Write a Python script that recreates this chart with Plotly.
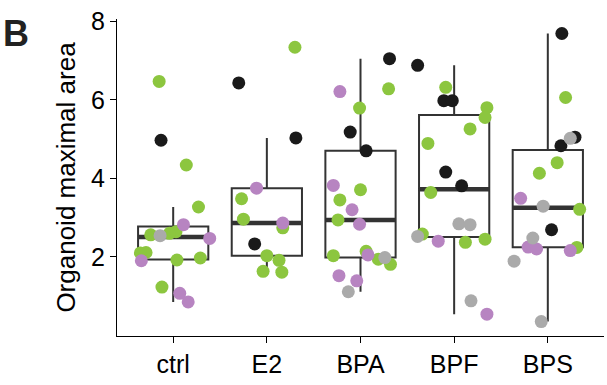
import numpy as np
import plotly.graph_objects as go

categories = ["ctrl", "E2", "BPA", "BPF", "BPS"]

# point values, jitter offsets and colour groups per category
ctrl_vals = [6.47, 4.97, 4.34, 3.27, 2.82, 2.64, 2.60, 2.54, 2.56, 2.47, 2.11, 2.10, 1.90, 1.92, 1.97, 1.23, 1.07, 0.85]
ctrl_jit = [-0.15, -0.13, 0.14, 0.27, 0.11, 0.03, -0.04, -0.14, -0.24, 0.39, -0.29, -0.35, -0.34, 0.04, 0.29, -0.12, 0.07, 0.16]
ctrl_grp = ["G", "K", "G", "G", "P", "G", "G", "Gr", "G", "P", "G", "G", "P", "G", "G", "G", "P", "P"]

e2_vals = [6.43, 7.34, 5.03, 3.75, 3.48, 2.96, 2.86, 2.74, 2.33, 2.03, 1.91, 1.63, 1.61]
e2_jit = [-0.30, 0.30, 0.31, -0.11, -0.27, -0.25, 0.17, 0.17, -0.13, 0.00, 0.13, -0.04, 0.16]
e2_grp = ["K", "G", "K", "P", "G", "G", "P", "G", "K", "G", "G", "G", "G"]

bpa_vals = [6.21, 5.79, 5.18, 4.70, 3.82, 3.71, 3.45, 3.20, 2.94, 2.83, 2.03, 2.14, 2.05, 1.52, 1.39, 1.11, 7.05, 6.28, 1.94, 1.98, 1.81]
bpa_jit = [-0.22, -0.01, -0.11, 0.06, -0.29, 0.00, -0.22, -0.09, -0.24, -0.01, -0.29, 0.06, 0.08, -0.23, -0.04, -0.13, 0.31, 0.30, 0.19, 0.26, 0.32]
bpa_grp = ["P", "G", "K", "K", "P", "G", "G", "P", "G", "P", "G", "G", "P", "P", "P", "Gr", "K", "G", "G", "Gr", "G"]

bpf_vals = [6.88, 6.32, 5.98, 5.98, 5.80, 5.55, 5.26, 4.89, 4.16, 3.81, 3.64, 2.84, 2.82, 2.58, 2.52, 2.40, 2.37, 2.45, 0.88, 0.54]
bpf_jit = [-0.39, -0.09, -0.11, -0.02, 0.35, 0.33, 0.17, -0.28, -0.09, 0.08, -0.25, 0.05, 0.17, -0.34, -0.39, -0.17, 0.12, 0.33, 0.18, 0.35]
bpf_grp = ["K", "G", "K", "K", "G", "G", "G", "G", "K", "K", "G", "Gr", "Gr", "G", "Gr", "P", "G", "G", "Gr", "P"]

bps_vals = [7.69, 6.06, 5.02, 5.05, 4.83, 4.40, 4.13, 3.49, 3.29, 3.21, 2.69, 2.48, 2.25, 2.20, 2.16, 2.24, 1.89, 0.35]
bps_jit = [0.15, 0.19, 0.24, 0.29, 0.14, 0.10, -0.09, -0.29, -0.05, 0.34, 0.04, -0.16, -0.21, -0.12, 0.24, 0.31, -0.36, -0.07]
bps_grp = ["K", "G", "Gr", "K", "K", "G", "G", "P", "Gr", "G", "K", "Gr", "P", "P", "P", "G", "Gr", "Gr"]

all_vals = [ctrl_vals, e2_vals, bpa_vals, bpf_vals, bps_vals]
all_jit = [ctrl_jit, e2_jit, bpa_jit, bpf_jit, bps_jit]
all_grp = [ctrl_grp, e2_grp, bpa_grp, bpf_grp, bps_grp]

group_colors = {"G": "#8cc63f", "P": "#b784c1", "K": "#1a1a1a", "Gr": "#aaaaaa"}

pos = np.arange(1, len(categories) + 1)

# box statistics (ggplot-style: type-7 quartiles, whiskers to last point within 1.5 IQR)
q1s, meds, q3s, lfs, ufs = [], [], [], [], []
for v in all_vals:
    a = np.array(v)
    q1, med, q3 = np.percentile(a, [25, 50, 75])
    iqr = q3 - q1
    lf = a[a >= q1 - 1.5 * iqr].min()
    uf = a[a <= q3 + 1.5 * iqr].max()
    q1s.append(q1); meds.append(med); q3s.append(q3); lfs.append(lf); ufs.append(uf)

BOX_W = 0.75
LINE_C = "#333333"

fig = go.Figure()
fig.add_trace(go.Box(
    x=pos, q1=q1s, median=meds, q3=q3s, lowerfence=lfs, upperfence=ufs,
    width=BOX_W, fillcolor="rgba(255,255,255,0)", line=dict(color=LINE_C, width=2),
    boxpoints=False, whiskerwidth=0, showlegend=False, hoverinfo="skip",
))
# thick median bars
mx, my = [], []
for p, m in zip(pos, meds):
    mx += [p - BOX_W / 2, p + BOX_W / 2, None]
    my += [m, m, None]
fig.add_trace(go.Scatter(x=mx, y=my, mode="lines", line=dict(color=LINE_C, width=4.5),
                         showlegend=False, hoverinfo="skip"))

# jittered points
for grp in ["G", "P", "K", "Gr"]:
    xs, ys = [], []
    for p, vals, jit, grps in zip(pos, all_vals, all_jit, all_grp):
        for v, j, g in zip(vals, jit, grps):
            if g == grp:
                xs.append(p + j)
                ys.append(v)
    fig.add_trace(go.Scatter(x=xs, y=ys, mode="markers",
                             marker=dict(color=group_colors[grp], size=13, line=dict(width=0)),
                             showlegend=False, hoverinfo="skip"))

font = "Liberation Sans, Arial, Helvetica, sans-serif"
fig.update_layout(
    width=607, height=385,
    margin=dict(l=117, r=3, t=19, b=49),
    plot_bgcolor="white", paper_bgcolor="white",
    font=dict(family=font, size=25, color="black"),
    showlegend=False,
)
fig.update_xaxes(
    range=[0.4, 5.6], tickvals=list(pos), ticktext=categories,
    showline=True, linecolor="black", linewidth=1.2, ticks="outside", ticklen=6,
    tickcolor="black", tickwidth=1.2, showgrid=False, zeroline=False,
    tickfont=dict(size=25, color="black"),
)
fig.update_yaxes(
    range=[-0.017, 8.06], tickvals=[2, 4, 6, 8],
    showline=True, linecolor="black", linewidth=1.2, ticks="outside", ticklen=6,
    tickcolor="black", tickwidth=1.2, showgrid=False, zeroline=False,
    tickfont=dict(size=25, color="black"),
    title=dict(text="Organoid maximal area", font=dict(size=26, color="black"), standoff=7),
)
fig.add_annotation(text="<b>B</b>", x=0, y=1, xref="paper", yref="paper",
                   xanchor="left", yanchor="top", showarrow=False,
                   font=dict(size=36, color="#222222", family=font),
                   xshift=-116, yshift=8)

fig.write_html("out.html")
